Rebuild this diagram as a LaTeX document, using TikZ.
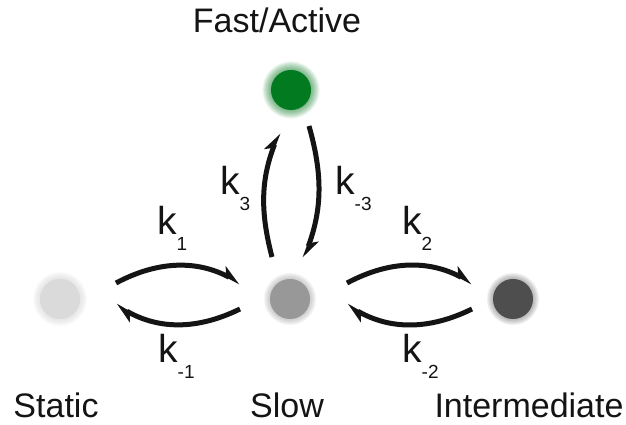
\documentclass[tikz,border=0pt]{standalone}
\usepackage{fontspec}
\setmainfont{Liberation Sans}
\usetikzlibrary{arrows.meta}

\definecolor{dotgreen}{RGB}{2,122,31}
\definecolor{dotstatic}{RGB}{218,218,218}
\definecolor{dotslow}{RGB}{152,152,152}
\definecolor{dotinter}{RGB}{78,78,78}
\definecolor{ink}{RGB}{20,20,20}

\newcommand\ksub[1]{k\raisebox{-16pt}{\fontsize{19}{19}\selectfont #1}}

% soft halo: stacked translucent discs of the dot colour
\newcommand\halo[4]{% node, colour, extra radius, opacity per disc
  \foreach \r in {1,...,#3}{\fill[#2, opacity=#4] (#1.center) circle (19+0.8*\r);}}

\tikzset{
  dot/.style={circle, minimum size=40pt, inner sep=0pt, draw=none},
  state/.style={font=\fontsize{34}{40}\selectfont, text=ink, inner sep=0pt, anchor=base},
  rate/.style={font=\fontsize{39}{44}\selectfont, text=ink, inner sep=0pt, anchor=base west},
  conn/.style={draw=ink, line width=5pt, -{Stealth[harpoon, length=17pt, width=16pt, inset=4.5pt]}}
}

\begin{document}
\begin{tikzpicture}[x=1pt, y=1pt]
  \useasboundingbox (0,0) rectangle (626,425);
  \fill[white] (0,0) rectangle (626,425);

  % the four states
  \node[dot, fill=dotstatic] (static) at (60,126) {};
  \node[dot, fill=dotslow]   (slow)   at (290,126) {};
  \node[dot, fill=dotinter]  (inter)  at (513,126) {};
  \node[dot, fill=dotgreen]  (fast)   at (291,335) {};
  \halo{static}{dotstatic}{10}{0.09}
  \halo{slow}{dotslow}{9}{0.07}
  \halo{inter}{dotinter}{9}{0.06}
  \halo{fast}{dotgreen}{12}{0.06}

  % state names
  \node[state] (tfast)   at (277,392) {Fast/Active};
  \node[state] (tstatic) at (56,7)    {Static};
  \node[state] (tslow)   at (287,7)   {Slow};
  \node[state] (tinter)  at (529,7)   {Intermediate};

  % transitions
  \draw[conn] ([shift={(56,16)}]static.center) to[bend left=28] ([shift={(-50,16)}]slow.center);
  \draw[conn] ([shift={(-50,-10)}]slow.center) to[bend left=28] ([shift={(56,-6)}]static.center);
  \draw[conn] ([shift={(57,16)}]slow.center) to[bend left=28] ([shift={(-41,16)}]inter.center);
  \draw[conn] ([shift={(-41,-10)}]inter.center) to[bend left=28] ([shift={(57,-6)}]slow.center);
  \draw[conn] ([shift={(-18,42)}]slow.center) to[bend left=18] ([shift={(-12,-43)}]fast.center);
  \draw[conn] ([shift={(18,-36)}]fast.center) to[bend left=18] ([shift={(14,41)}]slow.center);

  % rate constants
  \node[rate] (k1)  at (157,190) {\ksub{1}};
  \node[rate] (km1) at (158,62)  {\ksub{-1}};
  \node[rate] (k2)  at (402,190) {\ksub{2}};
  \node[rate] (km2) at (402,62)  {\ksub{-2}};
  \node[rate] (k3)  at (220,230) {\ksub{3}};
  \node[rate] (km3) at (335,230) {\ksub{-3}};
\end{tikzpicture}
\end{document}
